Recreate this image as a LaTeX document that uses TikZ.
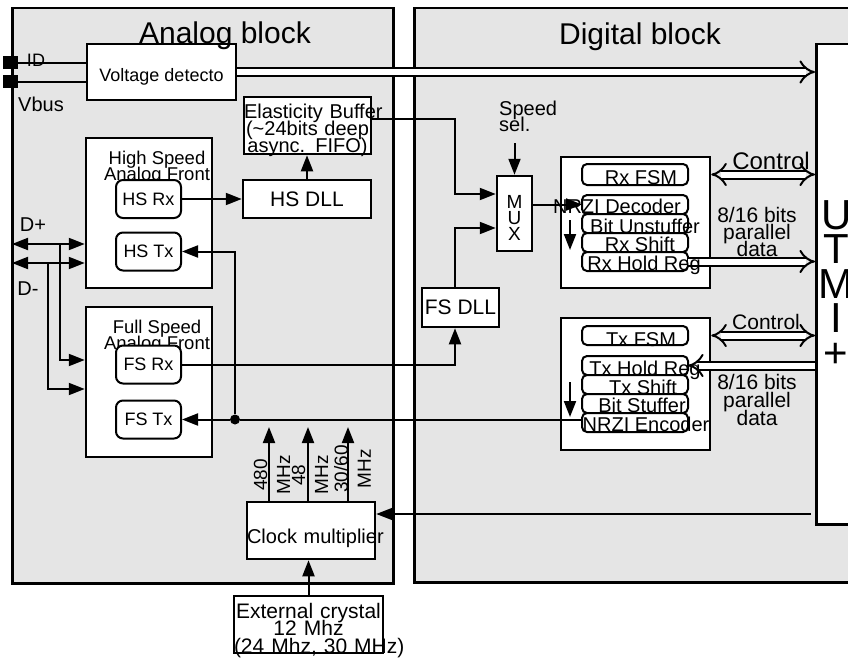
\documentclass[tikz,border=0pt]{standalone}
\usepackage{fontspec}
\setmainfont{Liberation Sans}
\usetikzlibrary{arrows.meta, positioning, calc}

\newcommand{\setfs}[2]{\fontsize{#1}{#2}\selectfont\lineskiplimit=-40pt\relax}

\begin{document}
\begin{tikzpicture}[
    x=1pt, y=-1pt,
    blk/.style={draw, fill=black!10, line width=2.5pt, inner sep=0pt, anchor=north west},
    box/.style={draw, fill=white, line width=2.5pt, inner sep=0pt, font=\setfs{20}{17}, align=center},
    fe/.style={draw, fill=white, line width=2pt, rounded corners=7pt, inner sep=0pt, minimum width=65pt, minimum height=38pt, font=\setfs{18}{18}},
    rbox/.style={draw, fill=white, line width=2pt, rounded corners=5pt, inner sep=0pt, outer sep=0pt, minimum width=106pt, minimum height=19pt},
    pin/.style={fill, inner sep=0pt, minimum width=15pt, minimum height=13pt},
    txt/.style={inner sep=0pt, font=\setfs{20}{17}, align=center},
    ln/.style={line width=2pt},
    arr/.style={-{Triangle[length=16pt, width=12pt]}, line width=2pt},
    arr2/.style={{Triangle[length=16pt, width=12pt]}-{Triangle[length=16pt, width=12pt]}, line width=2pt},
    bus/.style={double, double distance=6pt, line width=2pt, -{Implies[scale=1.4]}},
    bus2/.style={double, double distance=6pt, line width=2pt, {Implies[scale=1.4]}-{Implies[scale=1.4]}},
]
    \useasboundingbox (0,0) rectangle (848,658);

    \node[blk, minimum width=381pt, minimum height=575pt] (analog) at (11,7) {};
    \node[blk, minimum width=460pt, minimum height=574pt] (digital) at (413,7) {};
    \node[box, anchor=north west, minimum width=40pt, minimum height=480pt, text height=166pt, text depth=0pt, font=\setfs{42}{34.5}] (utmi) at (815,43) {U\\T\\M\\I\\+};

    \node[pin] (idpin) at (10,63) {};
    \node[pin] (vbuspin) at (10,82) {};
    \node[box, minimum width=149pt, minimum height=56pt, text height=20pt, text depth=0pt, font=\setfs{18}{18}] (vdet) at (161.5,72) {Voltage detecto};
    \node[box, minimum width=127pt, minimum height=57pt, text width=127pt, text height=15pt, text depth=28pt] (ebuf) at (307.5,125.5) {\mbox{Elasticity Buffer}\\\mbox{(\textasciitilde24bits deep}\\\mbox{async. FIFO)}};
    \node[box, minimum width=128pt, minimum height=38pt, font=\setfs{21}{21}] (hsdll) at (307,199) {HS DLL};

    \node[box, minimum width=126pt, minimum height=150pt] (hsfront) at (149,213) {};
    \node[txt, font=\setfs{18.5}{16}] (hsfrontt) at (157,168) {High Speed\\Analog Front};
    \node[fe] (hsrx) at (148.5,199) {HS Rx};
    \node[fe] (hstx) at (148.5,251.5) {HS Tx};
    \node[box, minimum width=126pt, minimum height=150pt] (fsfront) at (149,382) {};
    \node[txt, font=\setfs{18.5}{16}] (fsfrontt) at (157,337) {Full Speed\\Analog Front};
    \node[fe] (fsrx) at (148.5,364.5) {FS Rx};
    \node[fe] (fstx) at (148.5,419.5) {FS Tx};

    \node[box, minimum width=128pt, minimum height=57pt, text width=128pt, text height=25pt, text depth=0pt] (clk) at (311,530.5) {\mbox{Clock multiplier}};
    \node[box, minimum width=149pt, minimum height=57pt, text width=149pt, text height=15pt, text depth=28pt, font=\setfs{21}{17.5}] (xtal) at (308.5,624.5) {\mbox{External crystal}\\12 Mhz\\\mbox{(24 Mhz, 30 MHz)}};

    \node[box, minimum width=35pt, minimum height=75pt, text height=53pt, text depth=0pt, font=\setfs{19}{16}] (mux) at (514.5,213.5) {M\\U\\X};
    \node[box, minimum width=77pt, minimum height=39pt, font=\setfs{21}{21}] (fsdll) at (460.5,307.5) {FS DLL};

    \node[box, minimum width=149pt, minimum height=131pt] (rxblk) at (635.5,222.5) {};
    \node[rbox, minimum height=21pt] (rxfsm) at (635,174.5) {};
    \node[rbox] (nrzid) at (635,204.5) {};
    \node[rbox, below=0pt of nrzid] (bitun) {};
    \node[rbox, below=0pt of bitun] (rxsh) {};
    \node[rbox, below=0pt of rxsh] (rxhold) {};

    \node[box, minimum width=149pt, minimum height=132pt] (txblk) at (635.5,384) {};
    \node[rbox] (txfsm) at (635,335.5) {};
    \node[rbox] (txhold) at (635,365.5) {};
    \node[rbox, below=0pt of txhold] (txsh) {};
    \node[rbox, below=0pt of txsh] (bitst) {};
    \node[rbox, below=0pt of bitst] (nrzie) {};

    \coordinate (dplus) at (12,244);
    \coordinate (dminus) at (12,263);
    \coordinate (dplusbr) at (60,244);
    \coordinate (dminusbr) at (48,263);
    \coordinate (muxa) at ([yshift=19.5pt]mux.west);
    \coordinate (muxb) at ([yshift=-14.5pt]mux.west);
    \coordinate (dllx) at ([xshift=-5.5pt]fsdll.north);
    \coordinate (spdin) at (mux.north |- 0,143);
    \coordinate (rxdn1) at (570,220);
    \coordinate (rxdn2) at (570,250);
    \coordinate (txdn1) at (570,382);
    \coordinate (txdn2) at (570,417);
    \coordinate (c480) at (269,427);
    \coordinate (c48) at (308,427);
    \coordinate (c3060) at (348,427);
    \coordinate (clkin) at (811,514);

    \draw[ln] (idpin) -- (vdet.west |- idpin);
    \draw[ln] (vbuspin) -- (vdet.west |- vbuspin);
    \draw[bus] (vdet.east) -- (utmi.west |- vdet.east);

    \draw[arr2] (dplus) -- (hsfront.west |- dplus);
    \draw[arr2] (dminus) -- (hsfront.west |- dminus);
    \draw[arr] (dplusbr) |- ([yshift=22pt]fsfront.west);
    \draw[arr] (dminusbr) |- ([yshift=-7pt]fsfront.west);

    \draw[arr] (hsrx) -- (hsdll);
    \draw[arr] (hsdll.north) -- (hsdll.north |- ebuf.south);
    \draw[arr] ([yshift=6pt]ebuf.east) -| (dllx |- muxa) -- (muxa);
    \draw[arr] (dllx) |- (muxb);
    \draw[arr] (fsrx.east) -| ([xshift=-5.5pt]fsdll.south);
    \draw[arr] (spdin) -- (mux.north);

    \draw[arr] (mux.east |- nrzid.west) -- (nrzid.west);
    \draw[arr] (rxdn1) -- (rxdn2);
    \draw[bus2] (rxblk.east |- rxfsm) -- (utmi.west |- rxfsm);
    \draw[bus] (rxhold.east) -- (utmi.west |- rxhold.east);

    \draw[bus2] (txblk.east |- txfsm) -- (utmi.west |- txfsm);
    \draw[bus] (utmi.west |- txhold) -- (txhold.east);
    \draw[arr] (txdn1) -- (txdn2);
    \node[circle, fill, inner sep=0pt, minimum size=10pt] (jn) at (235,419.5) {};
    \draw[ln] (nrzie.west |- jn) -- (jn);
    \draw[arr] (jn) -- (fstx.east);
    \draw[arr] (jn) |- (hstx.east);

    \draw[arr] (c480 |- clk.north) -- (c480);
    \draw[arr] (c48 |- clk.north) -- (c48);
    \draw[arr] (c3060 |- clk.north) -- (c3060);
    \draw[arr, line width=1.5pt] (clkin) -- (clk.east |- clkin);
    \draw[arr] (xtal.north) -- (xtal.north |- clk.south);

    \node[txt, anchor=base, font=\setfs{30}{30}] (analogt) at (225,44) {Analog block};
    \node[txt, anchor=base, font=\setfs{30}{30}] (digitalt) at (640,45) {Digital block};
    \node[txt, anchor=base, font=\setfs{18}{18}] (idt) at (36,67) {ID};
    \node[txt, anchor=base] (vbust) at (41,112) {Vbus};
    \node[txt, anchor=base] (dplust) at (33,231) {D+};
    \node[txt, anchor=base] (dminust) at (28,295) {D-};
    \node[txt, anchor=north west, align=left, font=\setfs{20}{16}] (spd) at (499,101) {Speed\\sel.};

    \node[txt, anchor=base] (rxfsmt) at (641,184) {Rx FSM};
    \node[txt, anchor=base] (nrzidt) at (617,213) {NRZI Decoder};
    \node[txt, anchor=base] (bitunt) at (645,233) {Bit Unstuffer};
    \node[txt, anchor=base] (rxsht) at (640,251) {Rx Shift};
    \node[txt, anchor=base] (rxholdt) at (644,270) {Rx Hold Reg};
    \node[txt, anchor=base] (txfsmt) at (641,346) {Tx FSM};
    \node[txt, anchor=base] (txholdt) at (645,375) {Tx Hold Reg};
    \node[txt, anchor=base] (txsht) at (643,394) {Tx Shift};
    \node[txt, anchor=base] (bitstt) at (642,412) {Bit Stuffer};
    \node[txt, anchor=base] (nrziet) at (646,431) {NRZI Encoder};

    \node[txt, anchor=base, font=\setfs{24}{24}] (rxctl) at (771,169) {Control};
    \node[txt, font=\setfs{21}{17}] (rxdata) at (757,232) {8/16 bits\\parallel\\data};
    \node[txt, anchor=base, font=\setfs{21}{21}] (txctl) at (766,329) {Control};
    \node[txt, font=\setfs{21}{18}] (txdata) at (757,400) {8/16 bits\\parallel\\data};

    \node[txt, rotate=90, font=\setfs{19}{23}] (f480) at (272,475) {480\\MHz};
    \node[txt, rotate=90, font=\setfs{19}{23}] (f48) at (310,475) {48\\MHz};
    \node[txt, rotate=90, font=\setfs{19}{23}] (f3060) at (352.5,469) {30/60\\MHz};
\end{tikzpicture}
\end{document}
